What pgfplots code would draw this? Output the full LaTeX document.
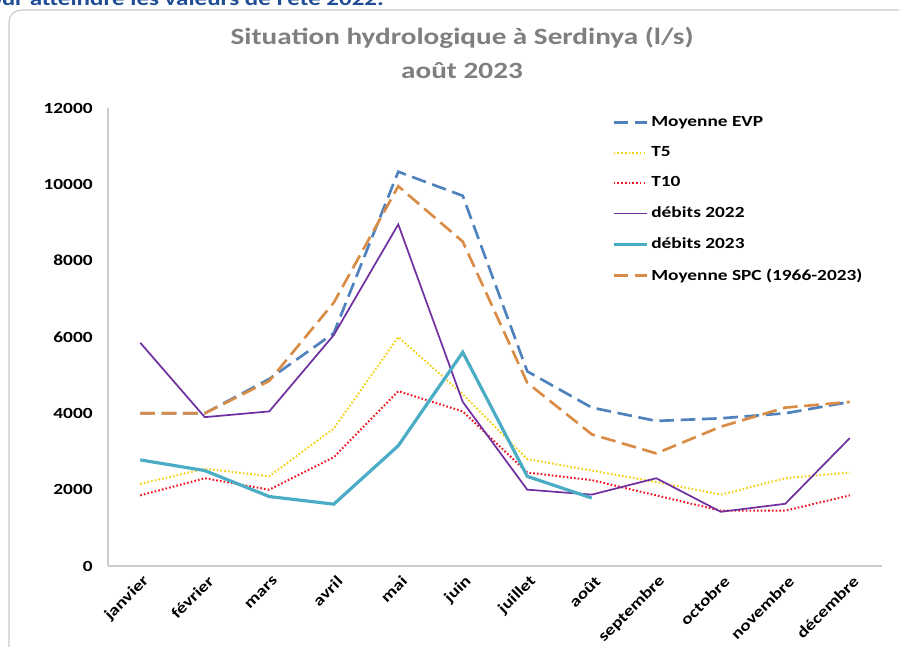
\documentclass[border=0pt]{standalone}
\usepackage{fontspec}
\setmainfont{Carlito}[FakeStretch=1.25]
\usepackage{pgfplots}
\pgfplotsset{compat=1.18}
\definecolor{cEVP}{HTML}{4F81BD}
\definecolor{cSPC}{HTML}{D98C45}
\definecolor{cT5}{HTML}{F5D010}
\definecolor{cT10}{HTML}{F01020}
\definecolor{c22}{HTML}{7030A0}
\definecolor{c23}{HTML}{4BACC6}
\definecolor{cTitle}{HTML}{7F7F7F}
\definecolor{cTop}{HTML}{1F4E96}
\begin{document}
\begin{tikzpicture}
\useasboundingbox (0pt,0pt) rectangle (674.25pt,484.5pt);
\clip (0pt,0pt) rectangle (674.25pt,484.5pt);
\node[anchor=base west,inner sep=0pt,font=\fontsize{15}{18}\selectfont\bfseries,text=cTop] at (-19pt,480pt) {pour atteindre les valeurs de l'été 2022.};
\draw[draw=black!22,line width=0.8pt,rounded corners=9pt] (6.75pt,477pt) rectangle (690pt,-15pt);
\node[font=\fontsize{17.5}{21}\selectfont\bfseries,text=cTitle] at (346.5pt,456pt) {Situation hydrologique à Serdinya (l/s)};
\node[font=\fontsize{17.5}{21}\selectfont\bfseries,text=cTitle] at (346.5pt,431.5pt) {août 2023};
\begin{axis}[
  at={(81pt,60pt)}, anchor=south west,
  scale only axis, width=580.5pt, height=343.5pt,
  xmin=-0.5, xmax=11.5, ymin=0, ymax=12000,
  xtick={0,...,11},
  xticklabels={janvier,février,mars,avril,mai,juin,juillet,août,septembre,octobre,novembre,décembre},
  ytick={0,2000,4000,6000,8000,10000,12000},
  scaled ticks=false,
  /pgf/number format/1000 sep={},
  /pgf/number format/assume math mode=true,
  axis x line*=bottom, axis y line*=left,
  axis line style={draw=black!20,line width=0.9pt,-},
  major tick length=0pt,
  ticklabel style={font=\fontsize{11.6}{13}\selectfont\bfseries},
  yticklabel style={xshift=-8pt},
  xticklabel style={rotate=45,anchor=east,xshift=0pt,yshift=-10pt},
  legend style={draw=none,fill=none,at={(0.651,0.988)},anchor=north west,
    font=\fontsize{11.6}{13}\selectfont\bfseries,row sep=9.6pt,inner sep=0pt},
  legend cell align=left,
  legend image code/.code={\draw[#1] plot coordinates {(0pt,0pt)(12.5pt,0pt)(25pt,0pt)};},
  clip=false,
]
\addplot[cEVP,line width=2pt,dash pattern=on 11pt off 5pt] coordinates {
(0,4000)(1,4000)(2,4900)(3,6100)(4,10330)(5,9700)(6,5100)(7,4150)(8,3800)(9,3870)(10,4000)(11,4300)};
\addlegendentry{Moyenne EVP}
\addplot[cT5,line width=1.5pt,dash pattern=on 1.2pt off 1.6pt] coordinates {
(0,2150)(1,2550)(2,2350)(3,3600)(4,6000)(5,4500)(6,2800)(7,2500)(8,2200)(9,1870)(10,2300)(11,2450)};
\addlegendentry{T5}
\addplot[cT10,line width=1.5pt,dash pattern=on 1.2pt off 1.6pt] coordinates {
(0,1850)(1,2300)(2,2000)(3,2850)(4,4580)(5,4050)(6,2450)(7,2250)(8,1850)(9,1450)(10,1450)(11,1850)};
\addlegendentry{T10}
\addplot[c22,line width=1.3pt] coordinates {
(0,5850)(1,3900)(2,4050)(3,6050)(4,8950)(5,4300)(6,2000)(7,1870)(8,2300)(9,1420)(10,1630)(11,3350)};
\addlegendentry{débits 2022}
\addplot[c23,line width=2.4pt] coordinates {
(0,2780)(1,2500)(2,1820)(3,1620)(4,3150)(5,5600)(6,2350)(7,1780)};
\addlegendentry{débits 2023}
\addplot[cSPC,line width=2pt,dash pattern=on 11pt off 5pt] coordinates {
(0,4000)(1,4000)(2,4850)(3,6900)(4,9950)(5,8500)(6,4800)(7,3450)(8,2950)(9,3650)(10,4150)(11,4300)};
\addlegendentry{Moyenne SPC (1966-2023)}
\end{axis}
\end{tikzpicture}
\end{document}
